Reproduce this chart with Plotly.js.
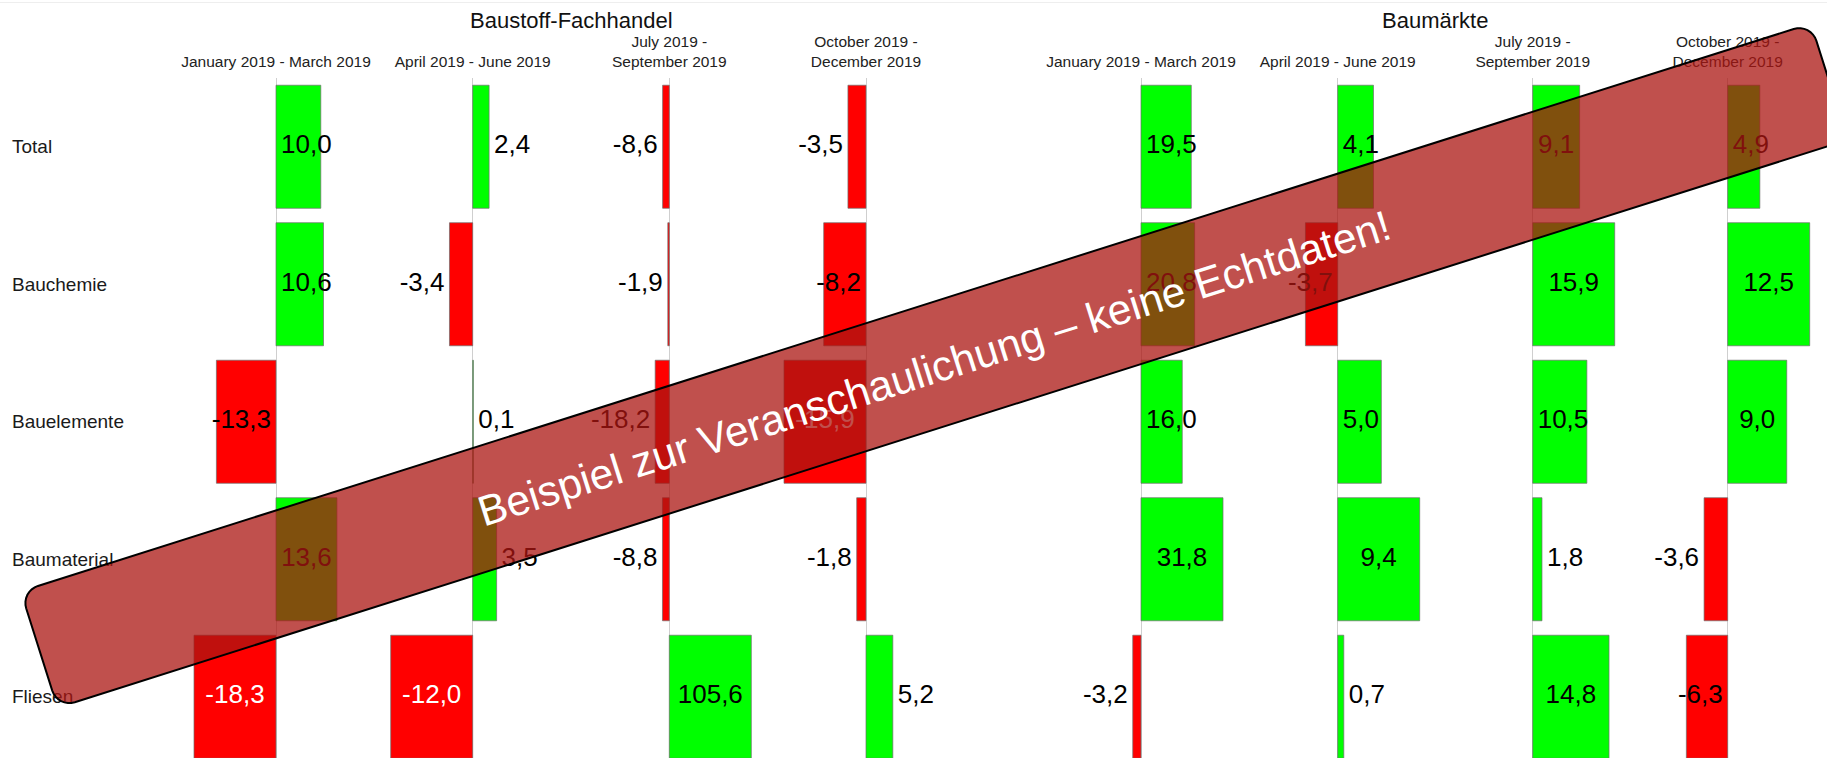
<!DOCTYPE html>
<html><head><meta charset="utf-8">
<script src="https://cdn.plot.ly/plotly-3.0.1.min.js"></script>
<style>html,body{margin:0;padding:0;background:#fff;overflow:hidden}#chart{width:1827px;height:758px}</style>
</head><body><div id="chart"></div>
<script>
// ---------------- data ----------------
const rows = ['Total', 'Bauchemie', 'Bauelemente', 'Baumaterial', 'Fliesen'];
const groups = ['Baustoff-Fachhandel', 'Baumärkte'];
const periods = ['January 2019 - March 2019', 'April 2019 - June 2019', 'July 2019 -<br>September 2019', 'October 2019 -<br>December 2019'];

const fachhandelQ1 = [10.0, 10.6, -13.3, 13.6, -18.3];
const fachhandelQ2 = [2.4, -3.4, 0.1, 3.5, -12.0];
const fachhandelQ3 = [-8.6, -1.9, -18.2, -8.8, 105.6];
const fachhandelQ4 = [-3.5, -8.2, -15.9, -1.8, 5.2];
const baumarktQ1 = [19.5, 20.8, 16.0, 31.8, -3.2];
const baumarktQ2 = [4.1, -3.7, 5.0, 9.4, 0.7];
const baumarktQ3 = [9.1, 15.9, 10.5, 1.8, 14.8];
const baumarktQ4 = [4.9, 12.5, 9.0, -3.6, -6.3];

const watermarkText = 'Beispiel zur Veranschaulichung – keine Echtdaten!';

const columns = [
  {group: 0, period: 0, values: fachhandelQ1},
  {group: 0, period: 1, values: fachhandelQ2},
  {group: 0, period: 2, values: fachhandelQ3},
  {group: 0, period: 3, values: fachhandelQ4},
  {group: 1, period: 0, values: baumarktQ1},
  {group: 1, period: 1, values: baumarktQ2},
  {group: 1, period: 2, values: baumarktQ3},
  {group: 1, period: 3, values: baumarktQ4}
];

// ---------------- layout constants ----------------
const W = 1827, H = 758;
const FONT = 'Liberation Sans, Arial, sans-serif';
const zeroPx = [276, 472.7, 669.3, 866, 1141, 1337.7, 1532.7, 1727.7];
const halfDomainPx = 90, maxBarPx = 82;
const plotTop = 78, rowPitch = 137.5, barFrac = 0.895;
const valueFontSize = 26, pad = 5, insideMinPx = 29;
const GREEN = '#00ff00', RED = '#ff0000';

const ctx = document.createElement('canvas').getContext('2d');
ctx.font = valueFontSize + 'px "Liberation Sans", Arial, sans-serif';
const fmt = v => v.toFixed(1).replace('.', ',');

const traces = [];
const layout = {
  width: W, height: H,
  margin: {l: 0, r: 0, t: 0, b: 0, pad: 0},
  paper_bgcolor: '#ffffff', plot_bgcolor: '#ffffff',
  showlegend: false,
  font: {family: FONT, color: '#1a1a1a'},
  yaxis: {
    type: 'category', categoryarray: rows,
    range: [-0.5 + (H - plotTop) / rowPitch, -0.5],
    domain: [0, 1 - plotTop / H],
    anchor: 'free', position: 8 / W,
    showgrid: false, zeroline: false, showline: false, ticks: '',
    ticklabelposition: 'inside',
    tickfont: {family: FONT, size: 19, color: '#1a1a1a'},
    fixedrange: true
  },
  annotations: [],
  shapes: []
};

columns.forEach((col, i) => {
  const ax = i === 0 ? 'x' : 'x' + (i + 1);
  const axKey = i === 0 ? 'xaxis' : 'xaxis' + (i + 1);
  const M = Math.max(...col.values.map(Math.abs));
  const pxPerUnit = maxBarPx / M;
  const half = halfDomainPx / pxPerUnit;
  const z = zeroPx[i];
  layout[axKey] = {
    domain: [(z - halfDomainPx) / W, (z + halfDomainPx) / W],
    range: [-half, half],
    anchor: 'y', side: 'top',
    showgrid: false, showline: false, ticks: '',
    zeroline: true, zerolinecolor: '#cfcfcf', zerolinewidth: 1,
    tickvals: [0], ticktext: [periods[col.period]],
    ticklabelstandoff: 7,
    tickfont: {family: FONT, size: 15.5, color: '#222222'},
    fixedrange: true
  };
  traces.push({
    type: 'bar', orientation: 'h', xaxis: ax, yaxis: 'y',
    x: col.values, y: rows, width: barFrac,
    marker: {color: col.values.map(v => v >= 0 ? GREEN : RED),
             line: {color: 'rgba(110,110,110,0.7)', width: 1}},
    hoverinfo: 'skip'
  });
  // value labels
  const du = 1 / pxPerUnit;
  const lx = [], lpos = [], lcol = [], ltxt = [];
  col.values.forEach(v => {
    const t = fmt(v);
    const tw = ctx.measureText(t).width;
    const w = Math.abs(v) * pxPerUnit;
    const sgn = v >= 0 ? 1 : -1;
    ltxt.push(t);
    if (tw + 2 * pad <= w) {
      lx.push(v / 2); lpos.push('middle center'); lcol.push(v < 0 ? '#ffffff' : '#000000');
    } else if (w >= insideMinPx) {
      lx.push(sgn * pad * du); lpos.push(sgn > 0 ? 'middle right' : 'middle left'); lcol.push('#000000');
    } else {
      lx.push(v + sgn * pad * du); lpos.push(sgn > 0 ? 'middle right' : 'middle left'); lcol.push('#000000');
    }
  });
  traces.push({
    type: 'scatter', mode: 'text', xaxis: ax, yaxis: 'y',
    x: lx, y: rows, text: ltxt, textposition: lpos,
    textfont: {family: FONT, size: valueFontSize, color: lcol},
    cliponaxis: false, hoverinfo: 'skip'
  });
});

// group titles centred over their four columns
groups.forEach((g, gi) => {
  const cx = (zeroPx[gi * 4 + 1] + zeroPx[gi * 4 + 2]) / 2;
  layout.annotations.push({
    xref: 'paper', yref: 'paper', x: cx / W, y: 1 - 20 / H,
    xanchor: 'center', yanchor: 'middle', showarrow: false,
    text: g, font: {family: FONT, size: 22, color: '#111111'}
  });
});

// faint top rule
layout.shapes.push({type: 'line', xref: 'paper', yref: 'paper', x0: 0, x1: 1, y0: 1 - 2.5 / H, y1: 1 - 2.5 / H,
  line: {color: '#eeeeee', width: 1}, layer: 'below'});

// watermark band (rounded, rotated rectangle)
function bandPath(sL, sR, tT, tB, r, deg) {
  const th = deg * Math.PI / 180, c = Math.cos(th), s = Math.sin(th);
  const toXY = (S, T) => [S * c + T * s, -S * s + T * c];
  const pts = [];
  const corner = (cs, ct, a0, a1) => {
    for (let k = 0; k <= 8; k++) {
      const a = a0 + (a1 - a0) * k / 8;
      pts.push(toXY(cs + r * Math.cos(a), ct + r * Math.sin(a)));
    }
  };
  corner(sL + r, tT + r, Math.PI, 1.5 * Math.PI);
  corner(sR - r, tT + r, 1.5 * Math.PI, 2 * Math.PI);
  corner(sR - r, tB - r, 0, 0.5 * Math.PI);
  corner(sL + r, tB - r, 0.5 * Math.PI, Math.PI);
  return 'M ' + pts.map(p => (p[0] / W).toFixed(5) + ',' + (1 - p[1] / H).toFixed(5)).join(' L ') + ' Z';
}
const bandAngle = 17.6, sL = -159, sR = 1719, tT = 570, tB = 692;
layout.shapes.push({
  type: 'path', xref: 'paper', yref: 'paper', layer: 'above',
  path: bandPath(sL, sR, tT, tB, 18, bandAngle),
  fillcolor: 'rgba(171,22,18,0.75)', line: {color: '#000000', width: 2}
});
{
  const th = bandAngle * Math.PI / 180;
  const sc = (sL + sR) / 2, tc = (tT + tB) / 2;
  const cx = sc * Math.cos(th) + tc * Math.sin(th);
  const cy = -sc * Math.sin(th) + tc * Math.cos(th);
  layout.annotations.push({
    xref: 'paper', yref: 'paper', x: cx / W, y: 1 - (cy + 3) / H,
    xanchor: 'center', yanchor: 'middle', showarrow: false,
    textangle: -bandAngle, text: watermarkText,
    font: {family: FONT, size: 42.5, color: '#ffffff'}
  });
}

Plotly.newPlot('chart', traces, layout, {staticPlot: true, displayModeBar: false});
</script>
</body></html>
